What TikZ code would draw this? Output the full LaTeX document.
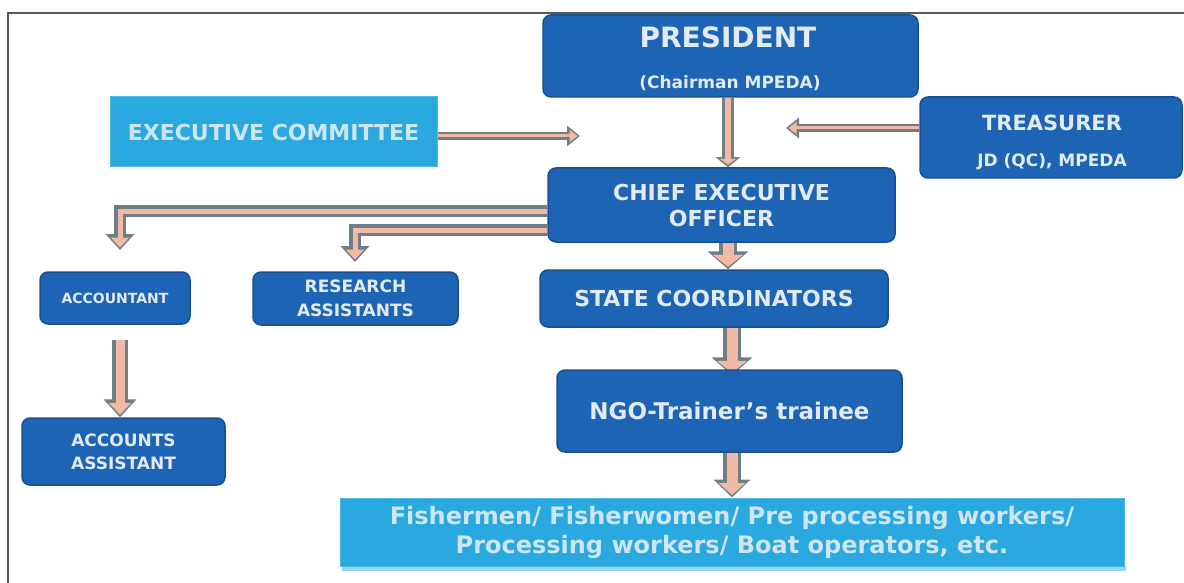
\documentclass[tikz,border=0pt]{standalone}
\usepackage{fontspec}
\setmainfont{DejaVu Sans}
\usetikzlibrary{arrows.meta,backgrounds}
\definecolor{darkbox}{HTML}{1E64B4}
\definecolor{darkedge}{HTML}{1A4E94}
\definecolor{lightbox}{HTML}{2AA8E0}
\definecolor{lightedge}{HTML}{52B8E6}
\definecolor{darktext}{HTML}{E2EAF4}
\definecolor{lighttext}{HTML}{CDE6F2}
\definecolor{arrgray}{HTML}{6E7F86}
\definecolor{arrsalmon}{HTML}{F2B9A4}
\definecolor{framegray}{HTML}{5A5A5A}
\newcommand\fsz[2]{\fontsize{#1}{#2}\selectfont\bfseries}
\tikzset{
  darkbx/.style={draw=darkedge, line width=1.5pt, fill=darkbox, rounded corners=8pt, inner sep=0pt, text=darktext, align=center},
  lightbx/.style={draw=lightedge, line width=1pt, fill=lightbox, inner sep=0pt, text=lighttext, align=center},
  lbl/.style={inner sep=0pt, text=darktext, align=center},
  aout/.style n args={3}{draw=arrgray, line width=#1, -{Triangle[width=#2,length=#3]}},
  ain/.style n args={3}{draw=arrsalmon, line width=#1, shorten >=2.5pt, -{Triangle[width=#2,length=#3]}},
}
\begin{document}
\begin{tikzpicture}[x=1pt,y=-1pt]
\useasboundingbox (0,0) rectangle (1184,583);
\draw[framegray, line width=2pt] (8,583) -- (8,13) -- (1184,13);

% boxes
\node[darkbx, minimum width=375pt, minimum height=82pt] (pres) at (730.5,56) {};
\node[lbl, font=\fsz{28}{32}] (presT) at (728,37) {PRESIDENT};
\node[lbl, font=\fsz{17}{20}] (presS) at (730,83) {(Chairman MPEDA)};

\node[lightbx, minimum width=327pt, minimum height=70pt, font=\fsz{22}{26}] (exec) at (273.5,132) {EXECUTIVE COMMITTEE};

\node[darkbx, minimum width=262pt, minimum height=81pt] (treas) at (1051,137.5) {};
\node[lbl, font=\fsz{21}{24}] (treasT) at (1052,123) {TREASURER};
\node[lbl, font=\fsz{17}{20}] (treasS) at (1052,162) {JD (QC), MPEDA};

\node[darkbx, minimum width=347pt, minimum height=74pt, font=\fsz{22}{26}] (ceo) at (721.5,205) {CHIEF EXECUTIVE\\OFFICER};

\node[darkbx, minimum width=348pt, minimum height=57pt, font=\fsz{22}{26}] (state) at (714,298.5) {STATE COORDINATORS};

\node[darkbx, minimum width=345pt, minimum height=82pt, font=\fsz{23}{26}] (ngo) at (729.5,411) {NGO-Trainer's trainee};

\fill[lightedge!60] (342,566) rectangle (1126,571);
\node[lightbx, minimum width=784pt, minimum height=68pt, font=\fsz{24}{29}] (workers) at (732,532) {Fishermen/ Fisherwomen/ Pre processing workers/\\Processing workers/ Boat operators, etc.};

\node[darkbx, minimum width=150pt, minimum height=52pt, font=\fsz{14}{18}] (acct) at (115,298) {ACCOUNTANT};
\node[darkbx, minimum width=205pt, minimum height=53pt, font=\fsz{17}{24}] (res) at (355.5,298.5) {RESEARCH\\ASSISTANTS};
\node[darkbx, minimum width=203pt, minimum height=67pt, font=\fsz{17}{23}] (accasst) at (123.5,451.5) {ACCOUNTS\\ASSISTANT};

% free ends
\coordinate (execEnd) at (580,136);
\coordinate (treasEnd) at (786,128);
\coordinate (acctEnd) at (120,250);
\coordinate (resEnd) at (355,262);
\coordinate (acctStart) at (120,340);

\begin{scope}[on background layer]
\fill[white] (0,0) rectangle (1184,583);
% exec -> centre
\draw[aout={8pt}{20pt}{13pt}] (exec.east |- execEnd) -- (execEnd);
\draw[ain={3pt}{12pt}{8pt}] (exec.east |- execEnd) -- (execEnd);
% treasurer -> centre
\draw[aout={8pt}{20pt}{13pt}] (treas.west |- treasEnd) -- (treasEnd);
\draw[ain={3pt}{12pt}{8pt}] (treas.west |- treasEnd) -- (treasEnd);
% president -> ceo
\draw[aout={12pt}{24pt}{10pt}] (pres.south -| 728,0) -- (ceo.north -| 728,0);
\draw[ain={6pt}{16pt}{6pt}] (pres.south -| 728,0) -- (ceo.north -| 728,0);
% ceo -> accountant
\draw[aout={12pt}{28pt}{16pt}, line join=miter] ([yshift=-6pt]ceo.west) -| (acctEnd);
\draw[ain={5pt}{18pt}{10pt}, line join=miter] ([yshift=-6pt]ceo.west) -| (acctEnd);
% ceo -> research
\draw[aout={12pt}{28pt}{16pt}, line join=miter] ([yshift=-25pt]ceo.west) -| (resEnd);
\draw[ain={5pt}{18pt}{10pt}, line join=miter] ([yshift=-25pt]ceo.west) -| (resEnd);
% ceo -> state
\draw[aout={18pt}{40pt}{18pt}] (ceo.south -| 728,0) -- (state.north -| 728,0);
\draw[ain={11pt}{30pt}{12pt}] (ceo.south -| 728,0) -- (state.north -| 728,0);
% state -> ngo
\draw[aout={18pt}{40pt}{18pt}] (state.south -| 732,0) -- ([yshift=-6pt]ngo.north -| 732,0);
\draw[ain={11pt}{30pt}{12pt}] (state.south -| 732,0) -- ([yshift=-6pt]ngo.north -| 732,0);
% ngo -> workers
\draw[aout={18pt}{36pt}{18pt}] (ngo.south -| 732,0) -- (workers.north -| 732,0);
\draw[ain={11pt}{26pt}{12pt}] (ngo.south -| 732,0) -- (workers.north -| 732,0);
% accountant -> accounts assistant
\draw[aout={16pt}{32pt}{18pt}] (acctStart) -- (accasst.north -| acctStart);
\draw[ain={9pt}{22pt}{12pt}] (acctStart) -- (accasst.north -| acctStart);
\end{scope}
\end{tikzpicture}
\end{document}
